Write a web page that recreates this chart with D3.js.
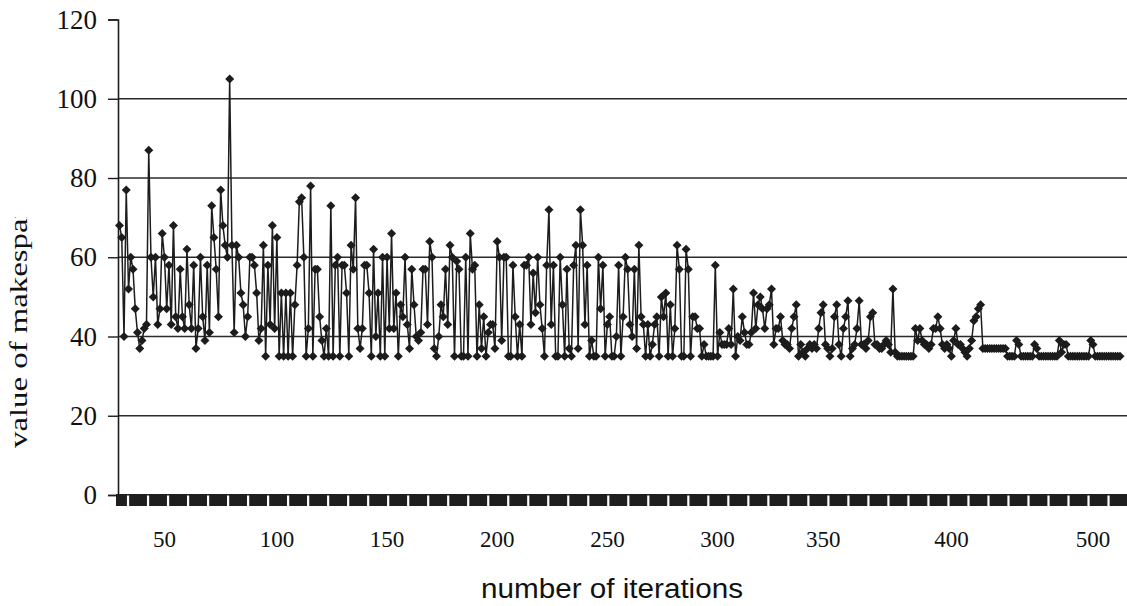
<!DOCTYPE html>
<html>
<head>
<meta charset="utf-8">
<script src="https://cdn.jsdelivr.net/npm/d3@7/dist/d3.min.js"></script>
<style>
  html, body { margin: 0; padding: 0; background: #fff; }
  svg { display: block; }
</style>
</head>
<body>
<svg id="chart" width="1127" height="606"></svg>
<script>
// ---- data ----
const makespan = [
  68,65,40,77,52,60,57,47,41,37,39,42,43,87,60,50,60,43,47,66,60,47,58,43,68,45,42,57,45,42,62,48,42,58,37,42,60,45,39,58,41,73,65,57,45,77,68,63,60,105,63,41,63,60,
  51,48,40,45,60,60,58,51,39,42,63,35,58,43,68,42,65,35,51,35,51,35,51,35,48,58,74,75,60,35,42,78,35,57,57,45,39,35,42,35,73,35,58,60,35,58,58,51,35,63,57,75,42,37,42,58,58,
  51,35,62,40,51,35,60,35,60,42,66,42,51,35,48,45,60,43,37,57,48,40,39,41,57,57,43,64,60,37,35,40,48,45,57,43,63,60,35,59,57,35,35,60,35,66,57,58,35,48,37,45,35,41,43,43,37,64,60,
  39,60,60,35,35,58,45,35,43,35,58,58,60,43,56,46,60,48,42,35,58,72,43,58,35,35,60,48,35,57,37,35,58,63,37,72,63,43,58,35,39,35,35,60,47,58,35,43,45,35,35,40,58,35,45,60,57,43,
  40,57,37,63,45,43,35,43,35,38,43,45,35,50,45,51,35,48,35,42,63,57,35,35,62,57,35,45,45,42,42,35,38,35,35,35,35,58,35,41,38,38,38,42,38,52,35,40,39,45,41,38,38,41,51,42,48,
  50,47,42,47,48,52,38,42,42,45,39,38,38,37,42,45,48,35,38,36,35,37,38,37,38,37,42,46,48,38,37,35,37,45,48,38,35,42,45,49,35,37,38,42,49,38,38,37,39,45,46,38,38,37,
  37,38,39,38,36,52,36,35,35,35,35,35,35,35,35,42,39,42,39,38,38,37,38,42,42,45,42,38,37,38,37,35,39,42,38,38,37,36,35,37,39,44,45,47,48,37,37,37,37,37,37,37,37,37,37,37,
  35,35,35,35,39,38,35,35,35,35,35,35,38,37,35,35,35,35,35,35,35,35,35,39,36,38,38,35,35,35,35,35,35,35,35,35,35,39,38,35,35,35,35,35,35,35,35,35,35,35,35
];
const yTicks = [0, 20, 40, 60, 80, 100, 120];
const xTickLabels = ["50", "100", "150", "200", "250", "300", "350", "400", "500"];
const xTickAt = [20, 70, 119, 168, 217, 266, 313, 370, 433]; // category index where each label sits
const yTitle = "value of makespan";
const xTitle = "number of iterations";

// ---- layout ----
const W = 1127, H = 606;
const plotL = 118, plotR = 1127, plotT = 19.5, plotB = 495;
const N = makespan.length;
const ink = "#1c1c1c";

const svg = d3.select("#chart");
svg.append("rect").attr("width", W).attr("height", H).attr("fill", "#fff");

const x = d3.scaleLinear().domain([0, N - 1]).range([119.5, 1120]);
const y = d3.scaleLinear().domain([0, 120]).range([plotB, plotT]);

// gridlines
svg.append("g").selectAll("line")
  .data(yTicks.filter(d => d > 0 && d < 120))
  .join("line")
  .attr("x1", plotL).attr("x2", plotR)
  .attr("y1", d => y(d)).attr("y2", d => y(d))
  .attr("stroke", "#2a2a2a").attr("stroke-width", 1.6);

// y axis
const yAxis = d3.axisLeft(y).tickValues(yTicks).tickSize(10).tickPadding(11).tickFormat(d3.format("d"));
const gy = svg.append("g").attr("transform", `translate(${plotL},0)`).call(yAxis);
gy.select(".domain").attr("stroke", ink).attr("stroke-width", 1.6);
gy.selectAll(".tick line").attr("stroke", ink).attr("stroke-width", 1.4);
gy.selectAll(".tick text")
  .attr("font-family", "'Liberation Serif', 'Times New Roman', serif")
  .attr("font-size", 27).attr("fill", "#111");

// zero band (dense category axis)
const bandTop = y(0) - 1, bandH = 12;
svg.append("rect")
  .attr("x", plotL - 2).attr("y", bandTop)
  .attr("width", plotR - plotL + 2).attr("height", bandH)
  .attr("fill", "#1e1e1e");
svg.append("g").selectAll("line")
  .data(d3.range(3.8, N + 5, 8.9))
  .join("line")
  .attr("x1", d => x(d)).attr("x2", d => x(d))
  .attr("y1", bandTop + 1.5).attr("y2", bandTop + bandH)
  .attr("stroke", "#fff").attr("stroke-width", 2.2);

// x tick labels
svg.append("g").selectAll("text")
  .data(xTickLabels)
  .join("text")
  .attr("x", (d, i) => x(xTickAt[i]))
  .attr("y", 547)
  .attr("text-anchor", "middle")
  .attr("font-family", "'Liberation Serif', 'Times New Roman', serif")
  .attr("font-size", 23).attr("fill", "#111")
  .text(d => d);

// series line
const line = d3.line().x((d, i) => x(i)).y(d => y(d));
svg.append("path")
  .datum(makespan)
  .attr("d", line)
  .attr("fill", "none")
  .attr("stroke", ink)
  .attr("stroke-width", 1.5)
  .attr("stroke-linejoin", "miter");

// diamond markers
const diamond = {
  draw(ctx, size) {
    const r = Math.sqrt(size) / 2;
    ctx.moveTo(0, -r); ctx.lineTo(r, 0); ctx.lineTo(0, r); ctx.lineTo(-r, 0); ctx.closePath();
  }
};
const sym = d3.symbol().type(diamond).size(81);
svg.append("g").selectAll("path")
  .data(makespan)
  .join("path")
  .attr("transform", (d, i) => `translate(${x(i)},${y(d)})`)
  .attr("d", sym)
  .attr("fill", ink);

// y title (clipped at top like the original)
const defs = svg.append("defs");
defs.append("clipPath").attr("id", "ytclip")
  .append("rect").attr("x", 0).attr("y", 217).attr("width", 60).attr("height", 300);
svg.append("g").attr("clip-path", "url(#ytclip)")
  .append("text")
  .attr("transform", "translate(27,448) rotate(-90)")
  .attr("font-family", "'Liberation Serif', 'Times New Roman', serif")
  .attr("font-size", 26)
  .attr("textLength", 246)
  .attr("lengthAdjust", "spacingAndGlyphs")
  .attr("fill", "#111")
  .text(yTitle);

// x title
svg.append("text")
  .attr("x", 612).attr("y", 598)
  .attr("text-anchor", "middle")
  .attr("font-family", "'Liberation Sans', Arial, sans-serif")
  .attr("font-size", 27)
  .attr("textLength", 262)
  .attr("lengthAdjust", "spacingAndGlyphs")
  .attr("fill", "#111")
  .text(xTitle);
</script>
</body>
</html>
